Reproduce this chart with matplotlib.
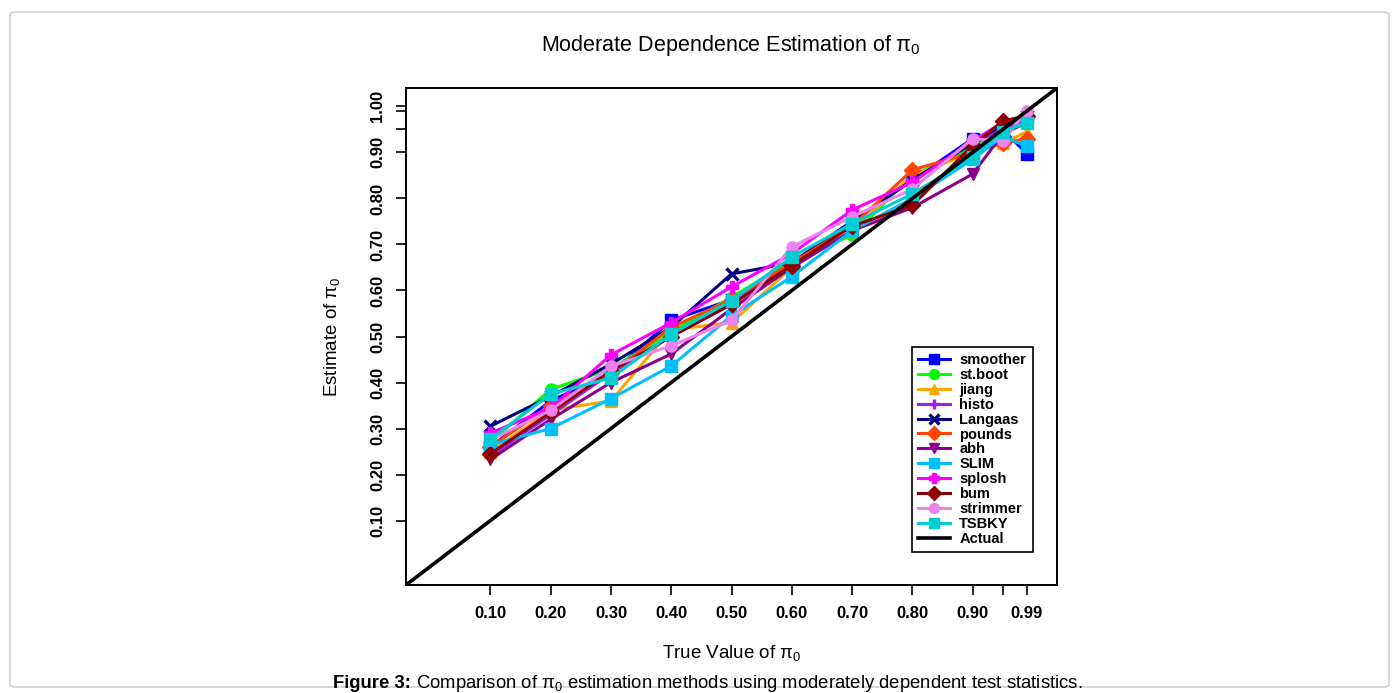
import matplotlib
matplotlib.use("Agg")
import matplotlib.pyplot as plt
from matplotlib.patches import FancyBboxPatch

plt.rcParams["font.family"] = ["Liberation Sans", "DejaVu Sans"]
plt.rcParams["mathtext.fontset"] = "custom"
plt.rcParams["mathtext.rm"] = "Liberation Sans"
plt.rcParams["mathtext.it"] = "Liberation Sans"

# true pi0 values
true_pi0 = [0.10, 0.20, 0.30, 0.40, 0.50, 0.60, 0.70, 0.80, 0.90, 0.95, 0.99]

# estimates
smoother = [0.26, 0.36, 0.42, 0.535, 0.58, 0.66, 0.75, 0.84, 0.93, 0.95, 0.897]
st_boot = [0.27, 0.385, 0.43, 0.51, 0.585, 0.665, 0.72, 0.85, 0.91, 0.95, 0.975]
jiang = [0.25, 0.34, 0.36, 0.515, 0.53, 0.65, 0.73, 0.85, 0.90, 0.92, 0.945]
histo = [0.24, 0.33, 0.42, 0.50, 0.57, 0.66, 0.75, 0.84, 0.92, 0.95, 0.97]
langaas = [0.305, 0.37, 0.44, 0.52, 0.636, 0.66, 0.75, 0.84, 0.92, 0.96, 0.98]
pounds = [0.26, 0.35, 0.42, 0.52, 0.58, 0.66, 0.74, 0.862, 0.90, 0.92, 0.93]
abh = [0.233, 0.32, 0.40, 0.462, 0.56, 0.65, 0.73, 0.78, 0.853, 0.94, 0.965]
slim = [0.265, 0.30, 0.365, 0.436, 0.545, 0.63, 0.73, 0.80, 0.885, 0.935, 0.913]
splosh = [0.29, 0.345, 0.46, 0.53, 0.608, 0.68, 0.775, 0.835, 0.925, 0.965, 0.975]
bum = [0.245, 0.335, 0.425, 0.50, 0.57, 0.654, 0.74, 0.785, 0.915, 0.968, 0.98]
strimmer = [0.275, 0.34, 0.435, 0.48, 0.535, 0.695, 0.76, 0.82, 0.93, 0.925, 0.99]
tsbky = [0.277, 0.375, 0.41, 0.505, 0.578, 0.673, 0.745, 0.81, 0.89, 0.945, 0.965]

methods = ["smoother", "st.boot", "jiang", "histo", "Langaas", "pounds",
           "abh", "SLIM", "splosh", "bum", "strimmer", "TSBKY"]
estimates = [smoother, st_boot, jiang, histo, langaas, pounds,
             abh, slim, splosh, bum, strimmer, tsbky]
colors = ["#0000FF", "#00FF00", "#FFA500", "#A020F0", "#000080", "#FF4500",
          "#8B008B", "#00BFFF", "#FF00FF", "#8B0000", "#EE82EE", "#00CED1"]
markers = ["s", "o", "^", "+", "x", "D", "v", "s", "P", "D", "o", "s"]

xticks = [0.10, 0.20, 0.30, 0.40, 0.50, 0.60, 0.70, 0.80, 0.90, 0.95, 0.99]
xticklabels = ["0.10", "0.20", "0.30", "0.40", "0.50", "0.60", "0.70", "0.80",
               "0.90", "", "0.99"]
yticks = [0.10, 0.20, 0.30, 0.40, 0.50, 0.60, 0.70, 0.80, 0.90, 0.95, 0.99, 1.00]
yticklabels = ["0.10", "0.20", "0.30", "0.40", "0.50", "0.60", "0.70", "0.80",
               "0.90", "", "", "1.00"]

fig = plt.figure(figsize=(13.97, 6.93), dpi=100)
fig.patches.append(FancyBboxPatch((10 / 1397, 6 / 693), 1379 / 1397, 675 / 693,
                                  boxstyle="round,pad=0,rounding_size=0.004",
                                  transform=fig.transFigure, fill=False,
                                  edgecolor="#c8c8c8", lw=1.0))
ax = fig.add_axes([406 / 1397, 1 - 585 / 693, 651 / 1397, 497 / 693])

for name, est, c, m in zip(methods, estimates, colors, markers):
    mew = 2.4 if m in ("+", "x") else 1.0
    ax.plot(true_pi0, est, "-", color=c, marker=m, lw=2.2, ms=8, mew=mew,
            mec=c, label=name)
ax.plot([-0.04, 1.04], [-0.04, 1.04], "-", color="black", lw=2.6, label="Actual")

ax.set_xlim(-0.04, 1.04)
ax.set_ylim(-0.04, 1.04)
ax.set_xticks(xticks)
ax.set_xticklabels(xticklabels, fontsize=12, fontweight="bold")
ax.set_yticks(yticks)
ax.set_yticklabels(yticklabels, fontsize=12, fontweight="bold", rotation=90,
                   va="center")
ax.tick_params(direction="out", length=7, width=1.2, pad=8)
for s in ax.spines.values():
    s.set_linewidth(1.4)

ax.set_xlabel(r"True Value of $\pi_0$", fontsize=13.5, labelpad=16)
ax.set_ylabel(r"Estimate of $\pi_0$", fontsize=13.5, labelpad=20)
fig.text(731 / 1397, 1 - 46 / 693, r"Moderate Dependence Estimation of $\pi_0$",
         ha="center", va="center", fontsize=15.5)

leg = ax.legend(loc="lower left", bbox_to_anchor=(0.777, 0.066),
                borderaxespad=0, prop={"weight": "bold", "size": 10.5},
                handlelength=2.2, handletextpad=0.6, labelspacing=0.06,
                borderpad=0.45, fancybox=False, framealpha=1,
                edgecolor="black", markerscale=0.9)
leg.get_frame().set_linewidth(1.2)

fig.text(411 / 1397, 1 - 683 / 693, "Figure 3:", ha="right", va="center",
         fontsize=13.3, fontweight="bold")
fig.text(416 / 1397, 1 - 683 / 693,
         r"Comparison of $\pi_0$ estimation methods using moderately dependent test statistics.",
         ha="left", va="center", fontsize=13.3)

fig.savefig("out.png", dpi=100)
